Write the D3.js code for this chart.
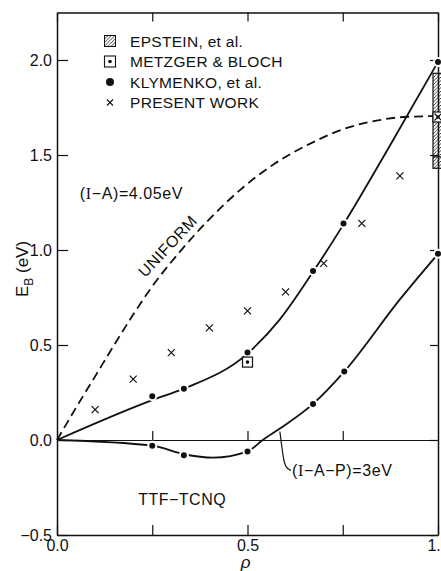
<!DOCTYPE html>
<html>
<head>
<meta charset="utf-8">
<script src="https://cdn.jsdelivr.net/npm/d3@7"></script>
<style>
  body { margin: 0; background: #fff; }
  text { font-family: "Liberation Sans", Arial, sans-serif; fill: #111; }
</style>
</head>
<body>
<div id="chart"></div>
<script>
// uniform model (dashed)
const uniformRho = [0, 0.05, 0.10, 0.15, 0.20, 0.247, 0.32, 0.394, 0.48, 0.568, 0.67, 0.75, 0.85, 0.91, 1.0];
const uniformEB  = [0, 0.17, 0.335, 0.50, 0.66, 0.80, 0.985, 1.15, 1.315, 1.45, 1.565, 1.635, 1.685, 1.70, 1.705];

// fitted curve through Klymenko points, (I-A) = 4.05 eV
const upperRho = [0, 0.25, 0.333, 0.5, 0.585, 0.672, 0.752, 0.874, 1.0];
const upperEB  = [0, 0.21, 0.27, 0.455, 0.635, 0.885, 1.135, 1.55, 1.99];

// fitted curve, (I-A-P) = 3 eV
const lowerRho = [0, 0.25, 0.333, 0.41, 0.5, 0.54, 0.585, 0.672, 0.754, 0.9, 1.0];
const lowerEB  = [0, -0.03, -0.075, -0.093, -0.06, 0, 0.06, 0.19, 0.36, 0.74, 0.98];

// Klymenko, et al.
const klymUpperRho = [0.25, 0.333, 0.5, 0.672, 0.752, 1.0];
const klymUpperEB  = [0.23, 0.27, 0.46, 0.89, 1.14, 1.99];
const klymLowerRho = [0.25, 0.333, 0.5, 0.672, 0.754, 1.0];
const klymLowerEB  = [-0.03, -0.08, -0.06, 0.19, 0.36, 0.98];

// present work
const presentRho = [0.1, 0.2, 0.3, 0.4, 0.5, 0.6, 0.7, 0.8, 0.9, 1.0];
const presentEB  = [0.16, 0.32, 0.46, 0.59, 0.68, 0.78, 0.93, 1.14, 1.39, 1.70];

// Metzger & Bloch
const metzgerRho = [0.5, 1.0];
const metzgerEB  = [0.41, 1.70];

// Epstein, et al. (range at rho = 1)
const epsteinRho = 1.0;
const epsteinRange = [1.43, 1.93];
const epsteinMid = 1.49;

// leader for (I-A-P) label
const leaderRho = [0.585, 0.594, 0.600, 0.614];
const leaderEB  = [0.045, -0.10, -0.145, -0.16];

const yTicks = [-0.5, 0, 0.5, 1.0, 1.5, 2.0];
const xTicks = [0, 0.25, 0.5, 0.75, 1.0];
const legendLabels = ["EPSTEIN, et al.", "METZGER & BLOCH", "KLYMENKO, et al.", "PRESENT WORK"];

const width = 441, height = 571;
const zip = (a, b) => a.map((v, i) => [v, b[i]]);

const svg = d3.select("#chart").append("svg")
    .attr("width", width)
    .attr("height", height);

const x = d3.scaleLinear().domain([0, 1]).range([57, 438]);
const y = d3.scaleLinear().domain([-0.5, 2.25]).range([535, 12.5]);

// hatch pattern
svg.append("defs").append("pattern")
    .attr("id", "hatch")
    .attr("patternUnits", "userSpaceOnUse")
    .attr("width", 3.5).attr("height", 3.5)
    .append("path")
    .attr("d", "M-1,1 l2,-2 M0,3.5 l3.5,-3.5 M2.5,4.5 l2,-2")
    .attr("stroke", "#111").attr("stroke-width", 0.8);

const fmt = d3.format(".1f");

function styleAxis(g, size) {
    g.attr("font-family", "Liberation Sans, Arial, sans-serif")
     .attr("font-size", size);
    g.selectAll("path.domain").attr("stroke", "#111").attr("stroke-width", 1.5);
    g.selectAll(".tick line").attr("stroke", "#111").attr("stroke-width", 1.2);
    g.selectAll(".tick text").attr("fill", "#111");
}

// zero line with small ticks
svg.append("g")
    .attr("transform", `translate(0,${y(0)})`)
    .call(d3.axisTop(x).tickValues([0.25, 0.5, 0.75]).tickSize(9).tickSizeOuter(0).tickFormat(""))
    .call(g => styleAxis(g, 0))
    .call(g => g.select("path.domain").attr("stroke-width", 1));

// left axis
svg.append("g")
    .attr("transform", `translate(${x(0)},0)`)
    .call(d3.axisLeft(y).tickValues(yTicks).tickSize(-11).tickSizeOuter(0).tickPadding(5).tickFormat(fmt))
    .call(g => styleAxis(g, 16));

// right axis
svg.append("g")
    .attr("transform", `translate(${x(1)},0)`)
    .call(d3.axisRight(y).tickValues(yTicks).tickSize(-8).tickSizeOuter(0).tickFormat(""))
    .call(g => styleAxis(g, 0));

// bottom axis
svg.append("g")
    .attr("transform", `translate(0,${y(-0.5)})`)
    .call(d3.axisBottom(x).tickValues(xTicks).tickSize(-10).tickSizeOuter(0).tickPadding(5)
        .tickFormat(d => (Math.abs(d * 2 - Math.round(d * 2)) < 1e-6) ? fmt(d) : ""))
    .call(g => styleAxis(g, 16));

// top axis
svg.append("g")
    .attr("transform", `translate(0,${y(2.25)})`)
    .call(d3.axisTop(x).tickValues(xTicks).tickSize(-9).tickSizeOuter(0).tickFormat(""))
    .call(g => styleAxis(g, 0));

// axis titles
svg.append("text")
    .attr("x", x(0.5) - 2)
    .attr("y", 568)
    .attr("text-anchor", "middle")
    .attr("font-size", 17)
    .attr("font-style", "italic")
    .text("ρ");

const yTitle = svg.append("text")
    .attr("transform", `translate(28,${y(0.9)}) rotate(-90)`)
    .attr("text-anchor", "middle")
    .attr("font-size", 17);
yTitle.append("tspan").text("E");
yTitle.append("tspan").attr("dy", 5).attr("font-size", 12).text("B");
yTitle.append("tspan").attr("dy", -5).text(" (eV)");

// curves
const line = d3.line()
    .x(d => x(d[0]))
    .y(d => y(d[1]))
    .curve(d3.curveMonotoneX);

svg.append("path")
    .datum(zip(uniformRho, uniformEB))
    .attr("fill", "none")
    .attr("stroke", "#111")
    .attr("stroke-width", 1.8)
    .attr("stroke-dasharray", "9,5")
    .attr("d", line);

svg.append("path")
    .datum(zip(upperRho, upperEB))
    .attr("fill", "none")
    .attr("stroke", "#111")
    .attr("stroke-width", 1.8)
    .attr("d", line);

svg.append("path")
    .datum(zip(lowerRho, lowerEB))
    .attr("fill", "none")
    .attr("stroke", "#111")
    .attr("stroke-width", 1.8)
    .attr("d", line);

// leader line
svg.append("path")
    .datum(zip(leaderRho, leaderEB))
    .attr("fill", "none")
    .attr("stroke", "#111")
    .attr("stroke-width", 1.2)
    .attr("d", d3.line().x(d => x(d[0])).y(d => y(d[1])).curve(d3.curveBasis));

// Epstein hatched range
svg.append("rect")
    .attr("x", x(epsteinRho) - 5)
    .attr("y", y(epsteinRange[1]))
    .attr("width", 12)
    .attr("height", y(epsteinRange[0]) - y(epsteinRange[1]))
    .attr("fill", "url(#hatch)")
    .attr("stroke", "#111")
    .attr("stroke-width", 1.2);
svg.append("line")
    .attr("x1", x(epsteinRho) - 5).attr("x2", x(epsteinRho) + 7)
    .attr("y1", y(epsteinMid)).attr("y2", y(epsteinMid))
    .attr("stroke", "#111").attr("stroke-width", 1.2);

// Klymenko dots
svg.append("g").selectAll("circle")
    .data(zip(klymUpperRho, klymUpperEB).concat(zip(klymLowerRho, klymLowerEB)))
    .join("circle")
    .attr("cx", d => x(d[0]))
    .attr("cy", d => y(d[1]))
    .attr("r", 4)
    .attr("fill", "#111")
    .attr("stroke", "#fff")
    .attr("stroke-width", 2);

// Metzger squares
const met = svg.append("g").selectAll("g")
    .data(zip(metzgerRho, metzgerEB))
    .join("g")
    .attr("transform", d => `translate(${x(d[0])},${y(d[1])})`);
met.append("rect")
    .attr("x", -5).attr("y", -5).attr("width", 10).attr("height", 10)
    .attr("fill", "#fff").attr("stroke", "#111").attr("stroke-width", 1.2);
met.append("circle").attr("r", 1.8).attr("fill", "#111");

// present work crosses
const cross = "M-3.5,-3.5L3.5,3.5M-3.5,3.5L3.5,-3.5";
svg.append("g").selectAll("path")
    .data(zip(presentRho, presentEB))
    .join("path")
    .attr("transform", d => `translate(${x(d[0])},${y(d[1])})`)
    .attr("d", cross)
    .attr("stroke", "#111")
    .attr("stroke-width", 1.2)
    .attr("fill", "none");

// legend
const legend = svg.append("g");
legendLabels.forEach((label, i) => {
    const cy = 41 + i * 20.5;
    const cx = 110;
    if (i === 0) {
        legend.append("rect").attr("x", cx - 5.5).attr("y", cy - 5.5)
            .attr("width", 11).attr("height", 11)
            .attr("fill", "url(#hatch)").attr("stroke", "#111").attr("stroke-width", 1);
    } else if (i === 1) {
        legend.append("rect").attr("x", cx - 5.5).attr("y", cy - 5.5)
            .attr("width", 11).attr("height", 11)
            .attr("fill", "#fff").attr("stroke", "#111").attr("stroke-width", 1.1);
        legend.append("circle").attr("cx", cx).attr("cy", cy).attr("r", 1.8).attr("fill", "#111");
    } else if (i === 2) {
        legend.append("circle").attr("cx", cx).attr("cy", cy).attr("r", 4).attr("fill", "#111");
    } else {
        legend.append("path").attr("transform", `translate(${cx},${cy})`)
            .attr("d", "M-3,-3L3,3M-3,3L3,-3").attr("stroke", "#111").attr("stroke-width", 1.1);
    }
    legend.append("text")
        .attr("x", 130)
        .attr("y", cy)
        .attr("dy", "0.36em")
        .attr("font-size", 15.5)
        .attr("letter-spacing", 0.3)
        .text(label);
});

// annotations
function roman(t, parts) {
    parts.forEach(p => {
        const s = t.append("tspan").text(p);
        if (p === "I") s.style("font-family", "Liberation Serif, serif");
    });
}

const ia = svg.append("text")
    .attr("x", x(0.06)).attr("y", y(1.27))
    .attr("font-size", 16).attr("letter-spacing", 0.6);
roman(ia, ["(", "I", "−A)=4.05eV"]);

const iap = svg.append("text")
    .attr("x", x(0.617)).attr("y", y(-0.19))
    .attr("font-size", 16).attr("letter-spacing", 0.6);
roman(iap, ["(", "I", "−A−P)=3eV"]);

svg.append("text")
    .attr("x", x(0.213)).attr("y", y(-0.34))
    .attr("font-size", 16).attr("letter-spacing", 0.5)
    .text("TTF−TCNQ");

svg.append("text")
    .attr("transform", `translate(${x(0.245) - 5},${y(0.83) - 4}) rotate(-47)`)
    .attr("font-size", 16)
    .attr("letter-spacing", 0.4)
    .text("UNIFORM");
</script>
</body>
</html>
